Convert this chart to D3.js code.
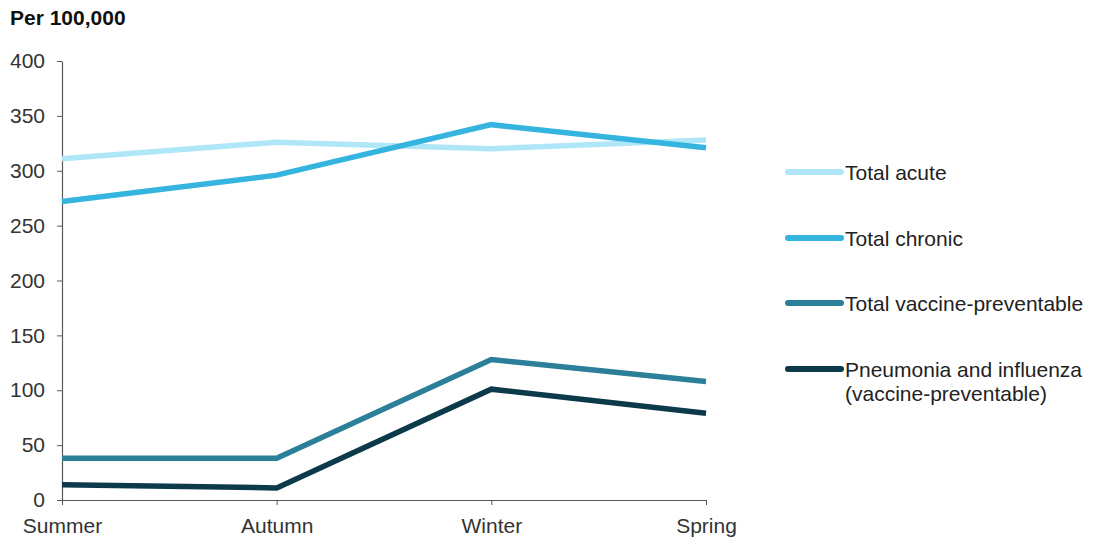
<!DOCTYPE html>
<html>
<head>
<meta charset="utf-8">
<script src="https://cdn.jsdelivr.net/npm/d3@7"></script>
<style>
  html, body { margin: 0; padding: 0; background: #fff; }
  svg { display: block; font-family: "Liberation Sans", Arial, sans-serif; }
</style>
</head>
<body>
<svg id="chart" width="1094" height="540"></svg>
<script>
// Seasonal rates of potentially preventable hospitalisations
const seasons = ["Summer", "Autumn", "Winter", "Spring"];
const totalAcute = [311, 326, 320, 328];
const totalChronic = [272, 296, 342, 321];
const totalVaccine = [38, 38, 128, 108];
const pneumoniaFlu = [14, 11, 101, 79];
const yTicks = [0, 50, 100, 150, 200, 250, 300, 350, 400];

const seriesNames = ["Total acute", "Total chronic", "Total vaccine-preventable", "Pneumonia and influenza\n(vaccine-preventable)"];
const seriesColors = ["#b0e7f8", "#34b4de", "#2b7f98", "#0c3a4b"];
const seriesValues = [totalAcute, totalChronic, totalVaccine, pneumoniaFlu];

const svg = d3.select("#chart");
const plotLeft = 62, plotRight = 706, plotTop = 61, plotBottom = 500;
const fontSize = 21;

const x = d3.scalePoint().domain(seasons).range([plotLeft, plotRight]);
const y = d3.scaleLinear().domain([0, 400]).range([plotBottom, plotTop]);

// Y axis
const yAxis = svg.append("g")
  .attr("transform", `translate(${plotLeft},0)`)
  .call(d3.axisLeft(y).tickValues(yTicks).tickSize(5).tickPadding(12).tickSizeOuter(0));
yAxis.select(".domain").attr("stroke", "#595959").attr("stroke-width", 1.2);
yAxis.selectAll(".tick line").attr("stroke", "#595959");
yAxis.selectAll(".tick text").attr("font-size", fontSize).attr("fill", "#333").attr("font-family", "Liberation Sans, Arial, sans-serif");

// X axis
const xAxis = svg.append("g")
  .attr("transform", `translate(0,${plotBottom})`)
  .call(d3.axisBottom(x).tickSize(5).tickPadding(13).tickSizeOuter(0));
xAxis.select(".domain").attr("stroke", "#595959").attr("stroke-width", 1.2);
xAxis.selectAll(".tick line").attr("stroke", "#595959");
xAxis.selectAll(".tick text").attr("font-size", fontSize).attr("fill", "#333").attr("font-family", "Liberation Sans, Arial, sans-serif");

// Unit label
svg.append("text")
  .attr("x", 10).attr("y", 25)
  .attr("font-size", fontSize).attr("font-weight", "bold").attr("fill", "#111")
  .text("Per 100,000");

// Series lines
const line = d3.line().x((d, i) => x(seasons[i])).y(d => y(d));
seriesValues.forEach((vals, k) => {
  svg.append("path")
    .datum(vals)
    .attr("d", line)
    .attr("fill", "none")
    .attr("stroke", seriesColors[k])
    .attr("stroke-width", 5.5)
    .attr("stroke-linejoin", "miter");
});

// Legend
const legendY = [172, 238, 303, 369];
seriesNames.forEach((name, k) => {
  const g = svg.append("g").attr("transform", `translate(788,${legendY[k]})`);
  g.append("line")
    .attr("x1", 0).attr("x2", 53).attr("y1", 0).attr("y2", 0)
    .attr("stroke", seriesColors[k]).attr("stroke-width", 6).attr("stroke-linecap", "round");
  const t = g.append("text")
    .attr("x", 57).attr("y", 8)
    .attr("font-size", fontSize).attr("fill", "#222");
  name.split("\n").forEach((part, j) => {
    t.append("tspan").attr("x", 57).attr("dy", j === 0 ? 0 : 24).text(part);
  });
});
</script>
</body>
</html>
